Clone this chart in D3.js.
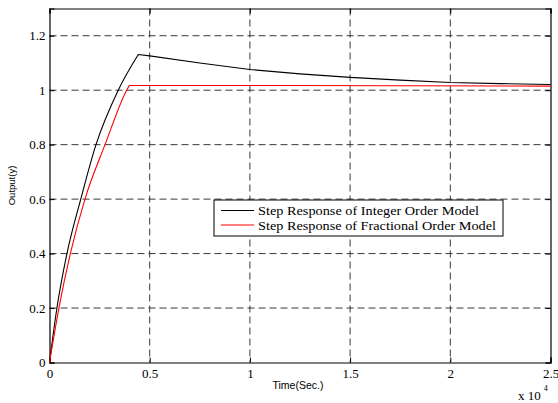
<!DOCTYPE html>
<html>
<head>
<meta charset="utf-8">
<script src="https://cdn.jsdelivr.net/npm/d3@7"></script>
<style>
  body { margin: 0; background: #fff; }
  svg { display: block; }
</style>
</head>
<body>
<svg id="chart" width="558" height="403"></svg>
<script>
// Step response data (time in seconds, output y)
// rising part up to the peak / knee, then the settling part
const timeIntegerRise = [0, 370, 870, 1560, 2320, 3430, 4430];
const outIntegerRise  = [0, 0.2, 0.4, 0.6, 0.8, 1.0, 1.131];
const timeIntegerTail = [4430, 5000, 7500, 10000, 12500, 15000, 17500, 20000, 22500, 25000];
const outIntegerTail  = [1.131, 1.126, 1.10, 1.076, 1.06, 1.047, 1.037, 1.028, 1.024, 1.021];

const timeFractionalRise = [0, 470, 1040, 1770, 2770, 3850, 3980];
const outFractionalRise  = [0, 0.2, 0.4, 0.6, 0.8, 1.0, 1.017];
const timeFractionalTail = [3980, 12000, 25000];
const outFractionalTail  = [1.017, 1.017, 1.015];

const xTicks = [0, 5000, 10000, 15000, 20000, 25000];
const yTicks = [0, 0.2, 0.4, 0.6, 0.8, 1.0, 1.2];

const seriesNames = ["Step Response of Integer Order Model", "Step Response of Fractional Order Model"];
const seriesColors = ["#000000", "#ff0000"];

// Plot box
const plotLeft = 49.5, plotRight = 550.5, plotTop = 8.5, plotBottom = 362.5;

const svg = d3.select("#chart");

const x = d3.scaleLinear().domain([0, 25000]).range([plotLeft, plotRight]);
const y = d3.scaleLinear().domain([0, 1.3]).range([plotBottom, plotTop]);

const serif = "'Liberation Serif', 'Times New Roman', serif";
const sans = "'Liberation Sans', Arial, sans-serif";

// Grid lines (dashed)
const grid = svg.append("g").attr("stroke", "#222").attr("stroke-width", 0.9).attr("stroke-dasharray", "7,4");
grid.selectAll(".vgrid")
    .data(xTicks.slice(1, -1))
    .enter().append("line")
    .attr("x1", d => x(d)).attr("x2", d => x(d))
    .attr("y1", plotTop).attr("y2", plotBottom);
grid.selectAll(".hgrid")
    .data(yTicks.slice(1))
    .enter().append("line")
    .attr("x1", plotLeft).attr("x2", plotRight)
    .attr("y1", d => y(d)).attr("y2", d => y(d));

// Axes with inward ticks
const xAxis = d3.axisBottom(x).tickValues(xTicks).tickSize(-5).tickPadding(6)
    .tickFormat(d => d3.format("")(d / 10000));
const yAxis = d3.axisLeft(y).tickValues(yTicks).tickSize(-5).tickPadding(4)
    .tickFormat(d => d3.format("")(+d.toFixed(1)));

const gx = svg.append("g").attr("transform", `translate(0,${plotBottom})`).call(xAxis);
const gy = svg.append("g").attr("transform", `translate(${plotLeft},0)`).call(yAxis);
const gt = svg.append("g").attr("transform", `translate(0,${plotTop})`)
    .call(d3.axisTop(x).tickValues(xTicks).tickSize(-5).tickFormat(""));
const gr = svg.append("g").attr("transform", `translate(${plotRight},0)`)
    .call(d3.axisRight(y).tickValues(yTicks).tickSize(-5).tickFormat(""));

[gx, gy, gt, gr].forEach(g => {
    g.attr("font-family", serif).attr("font-size", 13);
    g.select(".domain").attr("stroke", "#000").attr("stroke-width", 1.2);
    g.selectAll(".tick line").attr("stroke", "#000");
    g.selectAll(".tick text").attr("fill", "#000").style("font-family", serif);
});

// Lines: smooth rise, straight settling part (keeps the sharp peak)
const riseLine = d3.line().x(d => x(d[0])).y(d => y(d[1])).curve(d3.curveMonotoneX);
const tailLine = d3.line().x(d => x(d[0])).y(d => y(d[1]));
const rises = [d3.zip(timeIntegerRise, outIntegerRise), d3.zip(timeFractionalRise, outFractionalRise)];
const tails = [d3.zip(timeIntegerTail, outIntegerTail), d3.zip(timeFractionalTail, outFractionalTail)];

rises.forEach((r, i) => {
    svg.append("path")
        .attr("fill", "none")
        .attr("stroke", seriesColors[i])
        .attr("stroke-width", 1.1)
        .attr("stroke-linejoin", "round")
        .attr("d", riseLine(r) + tailLine(tails[i]).replace(/^M/, "L"));
});

// Axis labels
svg.append("text")
    .attr("x", 298)
    .attr("y", 389)
    .attr("text-anchor", "middle")
    .style("font-family", sans)
    .style("font-size", "10.5px")
    .text("Time(Sec.)");

svg.append("text")
    .attr("transform", `translate(15,${(plotTop + plotBottom) / 2}) rotate(-90)`)
    .attr("text-anchor", "middle")
    .style("font-family", sans)
    .style("font-size", "9.5px")
    .text("Output(y)");

// x 10^4 multiplier
const mult = svg.append("text")
    .attr("x", 518)
    .attr("y", 400)
    .style("font-family", serif)
    .style("font-size", "13px");
mult.append("tspan").text("x 10");
mult.append("tspan").attr("dx", 3).attr("dy", -9).style("font-size", "8px").text("4");

// Legend
const legend = svg.append("g").attr("transform", "translate(214,200)");
legend.append("rect")
    .attr("width", 289)
    .attr("height", 36)
    .attr("fill", "#fff")
    .attr("stroke", "#000")
    .attr("stroke-width", 1);
legend.selectAll(".leg-line")
    .data(seriesNames)
    .enter().append("line")
    .attr("x1", 7).attr("x2", 40)
    .attr("y1", (d, i) => 10.5 + i * 14.5)
    .attr("y2", (d, i) => 10.5 + i * 14.5)
    .attr("stroke", (d, i) => seriesColors[i])
    .attr("stroke-width", 1.1);
const legendWidths = [221, 238];
legend.selectAll(".leg-text")
    .data(seriesNames)
    .enter().append("text")
    .attr("x", 44)
    .attr("y", (d, i) => 15 + i * 14.5)
    .attr("textLength", (d, i) => legendWidths[i])
    .attr("lengthAdjust", "spacingAndGlyphs")
    .style("font-family", serif)
    .style("font-size", "13px")
    .text(d => d);
</script>
</body>
</html>
